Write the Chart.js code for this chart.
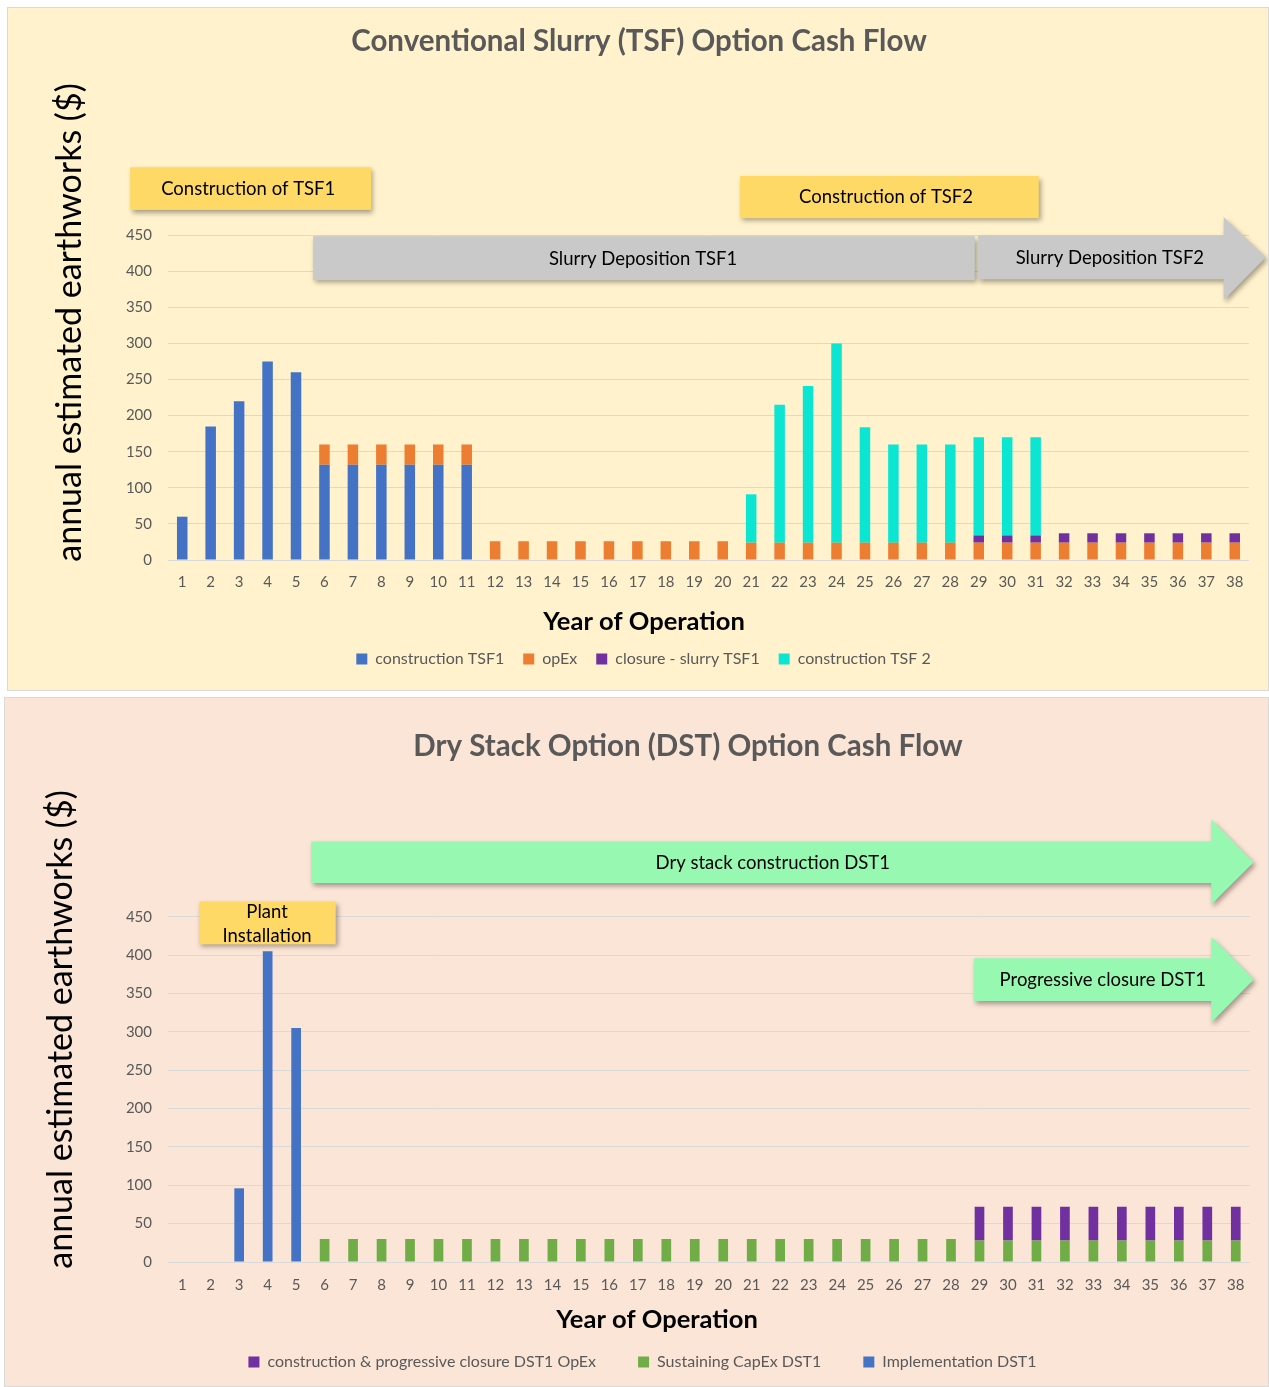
<!DOCTYPE html>
<html lang="en">
<head>
    <meta charset="UTF-8">
    <title>Cash Flow - TSF vs DST</title>
    <script src="https://cdn.jsdelivr.net/npm/chart.js"></script>
    <style>
      body {
          margin: 0;
          background: #ffffff;
          font-family: Lato, sans-serif;
      }
      .panel {
          position: absolute;
          outline: 1px solid #d9d9d9;
      }
      .panel canvas {
          display: block;
      }
      #tsfPanel {
          left: 8px;
          top: 8px;
          background: #fff2cc;
      }
      #dstPanel {
          left: 5px;
          top: 698px;
          background: #fbe5d6;
      }
    </style>
</head>
<body>
    <div class="panel" id="tsfPanel"><canvas id="tsfChart" width="1260" height="682"></canvas></div>
    <div class="panel" id="dstPanel"><canvas id="dstChart" width="1263" height="688"></canvas></div>
    <script>
    // ---- data ----
    const years = ['1','2','3','4','5','6','7','8','9','10','11','12','13','14','15','16','17','18','19',
                   '20','21','22','23','24','25','26','27','28','29','30','31','32','33','34','35','36','37','38'];
    const yTicks = [0, 50, 100, 150, 200, 250, 300, 350, 400, 450];

    // conventional slurry (TSF)
    const tsfConstruction1 = [60, 185, 220, 275, 260, 132, 132, 132, 132, 132, 132,
        null, null, null, null, null, null, null, null, null, null, null, null, null, null, null, null, null,
        null, null, null, null, null, null, null, null, null, null];
    const tsfOpex = [null, null, null, null, null, 28, 28, 28, 28, 28, 28,
        26, 26, 26, 26, 26, 26, 26, 26, 26,
        24, 24, 24, 24, 24, 24, 24, 24, 24, 24, 24, 24, 24, 24, 24, 24, 24, 24];
    const tsfClosure = [null, null, null, null, null, null, null, null, null, null,
        null, null, null, null, null, null, null, null, null, null,
        null, null, null, null, null, null, null, null,
        10, 10, 10, 13, 13, 13, 13, 13, 13, 13];
    const tsfConstruction2 = [null, null, null, null, null, null, null, null, null, null,
        null, null, null, null, null, null, null, null, null, null,
        67, 191, 217, 276, 160, 136, 136, 136, 136, 136, 136,
        null, null, null, null, null, null, null];

    // dry stack (DST)
    const dstClosureOpex = [null, null, null, null, null, null, null, null, null, null,
        null, null, null, null, null, null, null, null, null, null,
        null, null, null, null, null, null, null, null,
        44, 44, 44, 44, 44, 44, 44, 44, 44, 44];
    const dstSustaining = [null, null, null, null, null,
        30, 30, 30, 30, 30, 30, 30, 30, 30, 30, 30, 30, 30, 30, 30, 30, 30, 30, 30, 30, 30, 30, 30,
        28, 28, 28, 28, 28, 28, 28, 28, 28, 28];
    const dstImplementation = [null, null, 96, 405, 305,
        null, null, null, null, null, null, null, null, null, null, null, null, null, null, null,
        null, null, null, null, null, null, null, null, null, null, null, null, null, null, null, null, null, null];

    // ---- call-out shapes (x in years, y in $ units) ----
    const tsfNotes = {
        title: 'Conventional Slurry (TSF) Option Cash Flow', titleX: 631, titleY: 33,
        xTitleX: 636, xTitleY: 614,
        boxes: [
            {x1: -0.83, x2: 7.64, y1: 485, y2: 544, fill: '#ffd966', label: ['Construction of TSF1'], lx: 3.32, ly: 513.7},
            {x1: 20.61, x2: 31.11, y1: 473.5, y2: 532, fill: '#ffd966', label: ['Construction of TSF2'], lx: 25.74, ly: 502.6},
            {x1: 5.6, x2: 28.86, y1: 387.7, y2: 448.6, fill: '#c9c9c9', label: ['Slurry Deposition TSF1'], lx: 17.2, ly: 416.8}
        ],
        arrows: [
            {x1: 28.97, x2: 37.61, tip: 39.09, y1: 389, y2: 449.5, h1: 360, h2: 475, fill: '#c9c9c9',
             label: ['Slurry Deposition TSF2'], lx: 33.61, ly: 418}
        ]
    };
    const dstNotes = {
        title: 'Dry Stack Option (DST) Option Cash Flow', titleX: 683, titleY: 48,
        xTitleX: 652, xTitleY: 622,
        boxes: [
            {x1: 1.6, x2: 6.39, y1: 414, y2: 470, fill: '#ffd966', label: ['Plant', 'Installation'], lx: 3.98, ly: 440.7}
        ],
        arrows: [
            {x1: 5.53, x2: 37.14, tip: 38.63, y1: 494, y2: 548, h1: 466, h2: 577, fill: '#97f9b1',
             label: ['Dry stack construction DST1'], lx: 21.74, ly: 520.5},
            {x1: 28.8, x2: 37.14, tip: 38.63, y1: 340, y2: 396, h1: 312, h2: 424, fill: '#97f9b1',
             label: ['Progressive closure DST1'], lx: 33.33, ly: 367.7}
        ]
    };

    Chart.defaults.font.family = 'Lato, sans-serif';
    Chart.defaults.color = '#595959';

    function overlay(notes) {
        return {
            id: 'overlay',
            afterDraw(chart) {
                const ctx = chart.ctx;
                const x = chart.scales.x, y = chart.scales.y;
                const px = v => x.getPixelForValue(v - 1);
                const py = v => y.getPixelForValue(v);

                function shadowOn() {
                    ctx.shadowColor = 'rgba(0,0,0,0.35)';
                    ctx.shadowBlur = 5;
                    ctx.shadowOffsetX = 2;
                    ctx.shadowOffsetY = 3;
                }
                function label(lines, lx, ly) {
                    ctx.shadowColor = 'transparent';
                    ctx.fillStyle = '#000';
                    ctx.font = '18.5px Lato, sans-serif';
                    ctx.textAlign = 'center';
                    ctx.textBaseline = 'middle';
                    const step = 24;
                    const top = py(ly) - (lines.length - 1) * step / 2;
                    lines.forEach((t, i) => ctx.fillText(t, px(lx), top + i * step));
                }

                ctx.save();
                notes.boxes.forEach(b => {
                    shadowOn();
                    ctx.fillStyle = b.fill;
                    ctx.fillRect(px(b.x1), py(b.y2), px(b.x2) - px(b.x1), py(b.y1) - py(b.y2));
                    label(b.label, b.lx, b.ly);
                });
                notes.arrows.forEach(a => {
                    shadowOn();
                    ctx.fillStyle = a.fill;
                    const mid = (py(a.y1) + py(a.y2)) / 2;
                    ctx.beginPath();
                    ctx.moveTo(px(a.x1), py(a.y2));
                    ctx.lineTo(px(a.x2), py(a.y2));
                    ctx.lineTo(px(a.x2), py(a.h2));
                    ctx.lineTo(px(a.tip), mid);
                    ctx.lineTo(px(a.x2), py(a.h1));
                    ctx.lineTo(px(a.x2), py(a.y1));
                    ctx.lineTo(px(a.x1), py(a.y1));
                    ctx.closePath();
                    ctx.fill();
                    label(a.label, a.lx, a.ly);
                });

                // chart title and x title
                ctx.shadowColor = 'transparent';
                ctx.textAlign = 'center';
                ctx.textBaseline = 'middle';
                ctx.fillStyle = '#595959';
                ctx.font = 'bold 29.5px Lato, sans-serif';
                ctx.fillText(notes.title, notes.titleX, notes.titleY);
                ctx.fillStyle = '#000';
                ctx.font = 'bold 25.5px Lato, sans-serif';
                ctx.fillText('Year of Operation', notes.xTitleX, notes.xTitleY);
                ctx.restore();
            }
        };
    }

    function makeChart(id, datasets, notes, cfg) {
        return new Chart(document.getElementById(id), {
            type: 'bar',
            data: { labels: years, datasets: datasets },
            options: {
                responsive: false,
                animation: false,
                layout: { padding: { top: cfg.padTop, right: cfg.padRight, bottom: cfg.padBottom, left: cfg.padLeft } },
                datasets: { bar: { categoryPercentage: 1, barPercentage: cfg.barPct } },
                plugins: {
                    title: { display: false },
                    tooltip: { enabled: false },
                    legend: {
                        position: 'bottom',
                        labels: {
                            boxWidth: 11, boxHeight: 11, padding: cfg.legendPad,
                            font: { size: 16 }, color: '#595959',
                            sort: (a, b) => a.datasetIndex - b.datasetIndex
                        }
                    }
                },
                scales: {
                    x: {
                        stacked: true,
                        grid: { display: false, drawTicks: false },
                        border: { display: false },
                        ticks: { padding: cfg.xTickPad, font: { size: 15 }, color: '#595959', maxRotation: 0, autoSkip: false },
                        afterFit: s => { s.height = cfg.xHeight; }
                    },
                    y: {
                        stacked: true,
                        min: 0,
                        max: cfg.yMax,
                        grid: { color: '#d9d9d9', lineWidth: 1, drawTicks: false },
                        border: { display: false },
                        ticks: { stepSize: 50, padding: 16, font: { size: 15 }, color: '#595959' },
                        afterBuildTicks: s => { s.ticks = yTicks.map(v => ({ value: v })); },
                        afterFit: s => { s.width = cfg.yWidth; },
                        title: {
                            display: true,
                            text: 'annual estimated earthworks ($)',
                            color: '#000',
                            font: { size: 34 },
                            padding: { top: cfg.yTitlePad, bottom: 0 }
                        }
                    }
                }
            },
            plugins: [overlay(notes)]
        });
    }

    makeChart('tsfChart', [
        { label: 'construction TSF1', data: tsfConstruction1, backgroundColor: '#4472c4' },
        { label: 'opEx', data: tsfOpex, backgroundColor: '#ed7d31' },
        { label: 'closure - slurry TSF1', data: tsfClosure, backgroundColor: '#7030a0' },
        { label: 'construction TSF 2', data: tsfConstruction2, backgroundColor: '#0be6d2' }
    ], tsfNotes, {
        padTop: 77, padRight: 19, padBottom: 13, padLeft: 30, barPct: 0.37, legendPad: 19,
        xTickPad: 13, xHeight: 72, yMax: 658, yWidth: 130, yTitlePad: 12
    });

    makeChart('dstChart', [
        { label: 'construction & progressive closure DST1 OpEx', data: dstClosureOpex, backgroundColor: '#7030a0', order: 2 },
        { label: 'Sustaining CapEx DST1', data: dstSustaining, backgroundColor: '#70ad47', order: 1 },
        { label: 'Implementation DST1', data: dstImplementation, backgroundColor: '#4472c4', order: 3 }
    ], dstNotes, {
        padTop: 99, padRight: 18, padBottom: 6, padLeft: 30, barPct: 0.34, legendPad: 42,
        xTickPad: 14, xHeight: 50, yMax: 606, yWidth: 133, yTitlePad: 6
    });
    </script>
</body>
</html>
